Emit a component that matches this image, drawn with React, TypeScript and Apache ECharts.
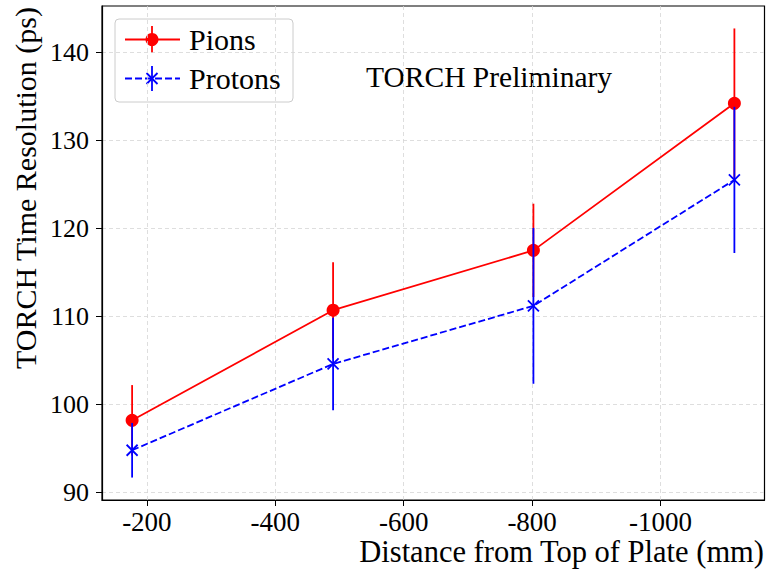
import React, { useEffect, useRef } from 'react';
import * as echarts from 'echarts';

const xValues = [-177, -490, -802, -1115];
const pionValues = [98.2, 110.7, 117.5, 134.2];
const pionErrors = [4.0, 5.45, 5.3, 8.5];
const protonValues = [94.8, 104.6, 111.2, 125.5];
const protonErrors = [3.1, 5.25, 8.85, 8.3];
const xTicks = [-200, -400, -600, -800, -1000];
const yTicks = [90, 100, 110, 120, 130, 140];

const FONT = '"Liberation Serif", "DejaVu Serif", serif';
const RED = '#ff0000';
const BLUE = '#0000ff';

function errorSeries(values: number[], errors: number[], color: string, z: number) {
  return {
    type: 'custom',
    z,
    silent: true,
    data: xValues.map((x, i) => [x, values[i] - errors[i], values[i] + errors[i]]),
    encode: { x: 0, y: [1, 2] },
    renderItem: (_params: any, api: any) => {
      const p1 = api.coord([api.value(0), api.value(1)]);
      const p2 = api.coord([api.value(0), api.value(2)]);
      return {
        type: 'line',
        shape: { x1: p1[0], y1: p1[1], x2: p2[0], y2: p2[1] },
        style: { stroke: color, lineWidth: 1.8 },
      };
    },
  };
}

export default function App() {
  const ref = useRef<HTMLDivElement>(null);
  useEffect(() => {
    const chart = echarts.init(ref.current!, null, { renderer: 'svg' });
    const xMinD = Math.min(...xValues);
    const xMaxD = Math.max(...xValues);
    const xPad = (xMaxD - xMinD) * 0.05;
    const lows = [...pionValues.map((v, i) => v - pionErrors[i]), ...protonValues.map((v, i) => v - protonErrors[i])];
    const highs = [...pionValues.map((v, i) => v + pionErrors[i]), ...protonValues.map((v, i) => v + protonErrors[i])];
    const yMinD = Math.min(...lows);
    const yMaxD = Math.max(...highs);
    const yPad = (yMaxD - yMinD) * 0.05;

    const option: any = {
      animation: false,
      backgroundColor: '#ffffff',
      grid: {
        left: 102, right: 1.5, top: 6, bottom: 73,
        show: true, borderColor: '#000', borderWidth: 1.2, backgroundColor: 'transparent',
      },
      xAxis: {
        type: 'value',
        inverse: true,
        min: xMinD - xPad,
        max: xMaxD + xPad,
        axisLine: { show: true, lineStyle: { color: '#000', width: 1.2 } },
        axisTick: { show: true, inside: false, length: 6, customValues: xTicks, lineStyle: { color: '#000', width: 1 } },
        axisLabel: { customValues: xTicks, formatter: (v: number) => String(v), color: '#000', fontFamily: FONT, fontSize: 27, margin: 8 },
        splitLine: { show: true, lineStyle: { color: '#d5d5d5', type: [4, 3], width: 0.8 } },
      },
      yAxis: {
        type: 'value',
        min: yMinD - yPad,
        max: yMaxD + yPad,
        axisLine: { show: true, lineStyle: { color: '#000', width: 1.2 } },
        axisTick: { show: true, inside: false, length: 6, customValues: yTicks, lineStyle: { color: '#000', width: 1 } },
        axisLabel: { customValues: yTicks, formatter: (v: number) => String(v), color: '#000', fontFamily: FONT, fontSize: 26, margin: 13 },
        splitLine: { show: true, lineStyle: { color: '#d5d5d5', type: [4, 3], width: 0.8 } },
      },
      series: [
        errorSeries(pionValues, pionErrors, RED, 1),
        {
          type: 'line', z: 2, silent: true,
          data: xValues.map((x, i) => [x, pionValues[i]]),
          symbol: 'circle', symbolSize: 13,
          itemStyle: { color: RED },
          lineStyle: { color: RED, width: 1.8 },
        },
        errorSeries(protonValues, protonErrors, BLUE, 3),
        {
          type: 'line', z: 4, silent: true,
          data: xValues.map((x, i) => [x, protonValues[i]]),
          symbol: 'path://M0,0L10,10M10,0L0,10', symbolSize: 11, symbolKeepAspect: true,
          itemStyle: { color: 'rgba(0,0,0,0)', borderColor: BLUE, borderWidth: 1.8 },
          lineStyle: { color: BLUE, width: 1.8, type: [7, 3] },
        },
      ],
      graphic: [
        {
          type: 'text', x: 25, y: 7, rotation: Math.PI / 2,
          style: { text: 'TORCH Time Resolution (ps)', font: `30px ${FONT}`, fill: '#000', align: 'right', verticalAlign: 'middle' },
        },
        {
          type: 'text', x: 764, y: 552,
          style: { text: 'Distance from Top of Plate (mm)', font: `30.5px ${FONT}`, fill: '#000', align: 'right', verticalAlign: 'middle' },
        },
        {
          type: 'text', x: 366, y: 77,
          style: { text: 'TORCH Preliminary', font: `29.5px ${FONT}`, fill: '#000', align: 'left', verticalAlign: 'middle' },
        },
        {
          type: 'group', z: 100,
          children: [
            { type: 'rect', shape: { x: 115, y: 19, width: 178, height: 83, r: 4 }, style: { fill: 'rgba(255,255,255,0.8)', stroke: '#cccccc', lineWidth: 1 } },
            { type: 'line', shape: { x1: 125, y1: 39.5, x2: 180, y2: 39.5 }, style: { stroke: RED, lineWidth: 1.8 } },
            { type: 'line', shape: { x1: 152, y1: 26, x2: 152, y2: 53 }, style: { stroke: RED, lineWidth: 1.8 } },
            { type: 'circle', shape: { cx: 152, cy: 39.5, r: 6.5 }, style: { fill: RED } },
            { type: 'text', x: 189, y: 39.5, style: { text: 'Pions', font: `30px ${FONT}`, fill: '#000', verticalAlign: 'middle' } },
            { type: 'line', shape: { x1: 125, y1: 78.5, x2: 180, y2: 78.5 }, style: { stroke: BLUE, lineWidth: 1.8, lineDash: [7, 3] } },
            { type: 'line', shape: { x1: 152, y1: 66, x2: 152, y2: 91 }, style: { stroke: BLUE, lineWidth: 1.8 } },
            { type: 'line', shape: { x1: 146.5, y1: 73, x2: 157.5, y2: 84 }, style: { stroke: BLUE, lineWidth: 1.8 } },
            { type: 'line', shape: { x1: 157.5, y1: 73, x2: 146.5, y2: 84 }, style: { stroke: BLUE, lineWidth: 1.8 } },
            { type: 'text', x: 189, y: 78.5, style: { text: 'Protons', font: `30px ${FONT}`, fill: '#000', verticalAlign: 'middle' } },
          ],
        },
      ],
    };
    chart.setOption(option);
    return () => chart.dispose();
  }, []);
  return <div ref={ref} style={{ position: 'fixed', left: 0, top: 0, width: 766, height: 573, background: '#fff' }} />;
}
